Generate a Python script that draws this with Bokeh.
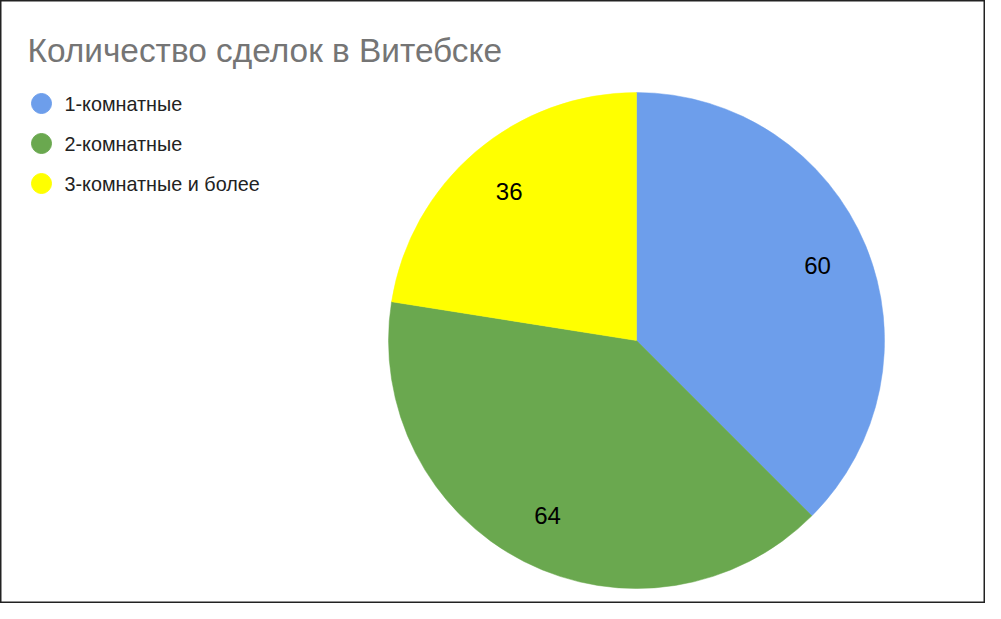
import numpy as np
from bokeh.plotting import figure
from bokeh.models import Range1d, ColumnDataSource, Label
from bokeh.core.properties import value
from bokeh.embed import file_html
from bokeh.resources import INLINE

# ---- data ----
categories = ["1-комнатные", "2-комнатные", "3-комнатные и более"]
counts = [60, 64, 36]
colors = ["#6d9eeb", "#6aa84f", "#ffff00"]
title_text = "Количество сделок в Витебске"

# ---- layout constants (pixels) ----
W, H = 985, 603
CX, CY = 636, H - 340
R = 248
LABEL_R = 196
FONT = "Liberation Sans"

p = figure(width=W, height=H, output_backend="svg", toolbar_location=None,
           x_range=Range1d(0, W), y_range=Range1d(0, H),
           min_border=0, min_border_left=0, min_border_right=0,
           min_border_top=0, min_border_bottom=0)
p.axis.visible = False
p.grid.visible = False
p.outline_line_color = "#222222"
p.outline_line_width = 2
p.background_fill_color = "white"
p.border_fill_color = "white"

vals = np.array(counts, dtype=float)
frac = vals / vals.sum()
cum_end = np.cumsum(frac) * 2 * np.pi
cum_start = cum_end - frac * 2 * np.pi
start_angle = np.pi / 2 - cum_end
end_angle = np.pi / 2 - cum_start
mid = (cum_start + cum_end) / 2

src = ColumnDataSource(dict(cat=categories, val=counts, color=colors,
                            start=start_angle, end=end_angle))
p.wedge(x=CX, y=CY, radius=R, start_angle="start", end_angle="end",
        fill_color="color", line_color="color", line_width=0.5, source=src)

lab_src = ColumnDataSource(dict(
    x=CX + LABEL_R * np.sin(mid),
    y=CY + LABEL_R * np.cos(mid),
    t=[str(v) for v in counts]))
p.text(x="x", y="y", text="t", source=lab_src, text_align="center",
       text_baseline="middle", text_font=value(FONT), text_font_size="24px",
       text_color="#000000")

# legend (manual)
idx = np.arange(len(categories))
leg_y = H - (103 + idx * 40)
leg_src = ColumnDataSource(dict(x=[41] * len(categories), tx=[64] * len(categories),
                                y=leg_y, color=colors, label=categories))
p.scatter(x="x", y="y", size=20, marker="circle", fill_color="color",
          line_color="color", source=leg_src)
p.text(x="tx", y="y", text="label", source=leg_src, text_align="left",
       text_baseline="middle", text_font=value(FONT), text_font_size="19.8px",
       text_color="#222222")

p.add_layout(Label(x=27, y=H - 50, text=title_text, text_font=FONT,
                   text_font_size="33.4px", text_color="#757575",
                   text_baseline="alphabetic", text_align="left"))

open("out.html", "w").write(file_html(p, INLINE))
